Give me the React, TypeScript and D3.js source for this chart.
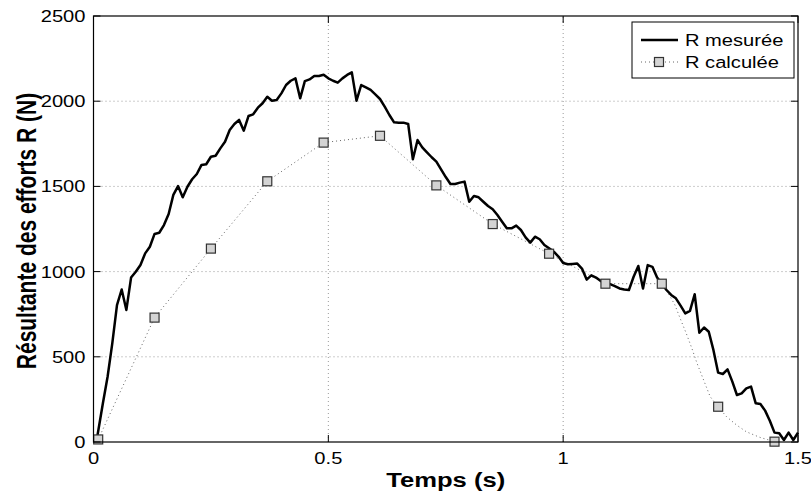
import React from "react";
import * as d3 from "d3";

const measuredTime = [
  0.007, 0.02, 0.03, 0.04, 0.05, 0.06, 0.07, 0.08, 0.09, 0.1,
  0.11, 0.12, 0.13, 0.14, 0.15, 0.16, 0.17, 0.18, 0.19, 0.2,
  0.21, 0.22, 0.23, 0.24, 0.25, 0.26, 0.27, 0.28, 0.29, 0.3,
  0.31, 0.32, 0.33, 0.34, 0.35, 0.36, 0.37, 0.38, 0.39, 0.4,
  0.41, 0.42, 0.43, 0.44, 0.45, 0.46, 0.47, 0.48, 0.49, 0.5,
  0.51, 0.52, 0.53, 0.54, 0.55, 0.56, 0.57, 0.58, 0.59, 0.6,
  0.61, 0.62, 0.63, 0.64, 0.65, 0.66, 0.67, 0.68, 0.69, 0.7,
  0.71, 0.72, 0.73, 0.74, 0.75, 0.76, 0.77, 0.78, 0.79, 0.8,
  0.81, 0.82, 0.83, 0.84, 0.85, 0.86, 0.87, 0.88, 0.89, 0.9,
  0.91, 0.92, 0.93, 0.94, 0.95, 0.96, 0.97, 0.98, 0.99, 1.0,
  1.01, 1.02, 1.03, 1.04, 1.05, 1.06, 1.07, 1.08, 1.09, 1.1,
  1.11, 1.12, 1.13, 1.14, 1.15, 1.16, 1.17, 1.18, 1.19, 1.2,
  1.21, 1.22, 1.23, 1.24, 1.25, 1.26, 1.27, 1.28, 1.29, 1.3,
  1.31, 1.32, 1.33, 1.34, 1.35, 1.36, 1.37, 1.38, 1.39, 1.4,
  1.41, 1.42, 1.43, 1.44, 1.45, 1.46, 1.47, 1.48, 1.49, 1.5,
];

const measuredForce = [
  15, 227, 383, 579, 803, 895, 775, 965, 999, 1039,
  1107, 1146, 1221, 1228, 1273, 1338, 1450, 1502, 1436, 1498,
  1542, 1573, 1626, 1630, 1674, 1680, 1723, 1762, 1831, 1866,
  1890, 1827, 1913, 1923, 1962, 1988, 2026, 2003, 2007, 2046,
  2095, 2120, 2134, 2017, 2118, 2128, 2148, 2148, 2155, 2134,
  2120, 2109, 2134, 2154, 2169, 2003, 2095, 2081, 2066, 2040,
  2013, 1968, 1919, 1876, 1874, 1874, 1866, 1659, 1772, 1729,
  1700, 1671, 1645, 1600, 1555, 1514, 1514, 1522, 1528, 1410,
  1444, 1436, 1410, 1385, 1366, 1332, 1293, 1254, 1254, 1270,
  1244, 1201, 1170, 1205, 1190, 1156, 1137, 1117, 1088, 1050,
  1043, 1045, 1047, 1018, 953, 978, 965, 945, 934, 926,
  915, 901, 895, 892, 970, 1033, 901, 1038, 1028, 965,
  930, 892, 863, 843, 800, 755, 770, 867, 641, 672,
  647, 539, 407, 399, 426, 356, 276, 285, 315, 325,
  227, 223, 184, 125, 55, 51, 12, 55, 12, 55,
];

// calculated values (markers)
const calcTime = [0.01, 0.13, 0.25, 0.37, 0.49, 0.61, 0.73, 0.85, 0.97, 1.09, 1.21, 1.33, 1.45];
const calcForce = [15, 730, 1135, 1530, 1757, 1797, 1506, 1279, 1105, 929, 929, 207, 2];

// dotted calculated curve (finer near the end)
const calcCurveTime = [
  0.01, 0.13, 0.25, 0.37, 0.49, 0.61, 0.73, 0.85, 0.97, 1.09, 1.21,
  1.224, 1.238, 1.249, 1.262, 1.274, 1.285, 1.299, 1.313, 1.33,
  1.348, 1.369, 1.39, 1.419, 1.45,
];
const calcCurveForce = [
  15, 730, 1135, 1530, 1757, 1797, 1506, 1279, 1105, 929, 929,
  872, 804, 726, 638, 550, 462, 364, 266, 207,
  148, 100, 60, 27, 2,
];

const xTicks = [0, 0.5, 1, 1.5];
const xTickLabels = ["0", "0.5", "1", "1.5"];
const yTicks = [0, 500, 1000, 1500, 2000, 2500];
const yTickLabels = ["0", "500", "1000", "1500", "2000", "2500"];

const xLabel = "Temps (s)";
const yLabel = "Résultante des efforts R (N)";
const legendLabels = ["R mesurée", "R calculée"];

const W = 811;
const H = 495;
const L = 93.5;
const R = 798;
const T = 16;
const B = 442;
const SX = 1.22;
const FONT = "'Liberation Sans', Arial, Helvetica, sans-serif";

export default function App() {
  const x = d3.scaleLinear().domain([0, 1.5]).range([L, R]);
  const y = d3.scaleLinear().domain([0, 2500]).range([B, T]);

  const measured = measuredTime.map((t, i) => [t, measuredForce[i]] as [number, number]);
  const calc = calcTime.map((t, i) => [t, calcForce[i]] as [number, number]);
  const calcCurve = calcCurveTime.map((t, i) => [t, calcCurveForce[i]] as [number, number]);

  const line = d3
    .line<[number, number]>()
    .x((d) => x(d[0]))
    .y((d) => y(d[1]));

  const tickLen = 7;
  const ms = 9;

  return (
    <svg
      width={W}
      height={H}
      style={{ position: "absolute", left: 0, top: 0, background: "#fff" }}
      fontFamily={FONT}
    >
      <rect x={0} y={0} width={W} height={H} fill="#fff" />
      {/* grid */}
      {xTicks.map((t, i) =>
        i > 0 && i < xTicks.length - 1 ? (
          <line key={"gx" + i} x1={x(t)} x2={x(t)} y1={B} y2={T} stroke="#9a9a9a" strokeWidth={1} strokeDasharray="1,3" />
        ) : null
      )}
      {yTicks.map((t, i) =>
        i > 0 && i < yTicks.length - 1 ? (
          <line key={"gy" + i} x1={L} x2={R} y1={y(t)} y2={y(t)} stroke="#9a9a9a" strokeWidth={1} strokeDasharray="1,3" />
        ) : null
      )}

      {/* calculated: dotted curve */}
      <path d={line(calcCurve) || ""} fill="none" stroke="#666" strokeWidth={1} strokeDasharray="1,3" />

      {/* measured */}
      <path d={line(measured) || ""} fill="none" stroke="#000" strokeWidth={2.5} strokeLinejoin="round" />

      {/* markers */}
      {calc.map((d, i) => (
        <rect
          key={"m" + i}
          x={x(d[0]) - ms / 2}
          y={y(d[1]) - ms / 2}
          width={ms}
          height={ms}
          fill="#d4d4d4"
          stroke="#333"
          strokeWidth={1.2}
        />
      ))}

      {/* axes box */}
      <rect x={L} y={T} width={R - L} height={B - T} fill="none" stroke="#000" strokeWidth={1.2} />

      {/* ticks */}
      {xTicks.map((t, i) => (
        <g key={"xt" + i}>
          <line x1={x(t)} x2={x(t)} y1={B} y2={B - tickLen} stroke="#000" />
          <line x1={x(t)} x2={x(t)} y1={T} y2={T + tickLen} stroke="#000" />
          <text
            transform={`translate(${x(t)},${B + 22}) scale(${SX},1)`}
            textAnchor="middle"
            fontSize={16.5}
            fill="#000"
          >
            {xTickLabels[i]}
          </text>
        </g>
      ))}
      {yTicks.map((t, i) => (
        <g key={"yt" + i}>
          <line x1={L} x2={L + tickLen} y1={y(t)} y2={y(t)} stroke="#000" />
          <line x1={R} x2={R - tickLen} y1={y(t)} y2={y(t)} stroke="#000" />
          <text
            transform={`translate(${L - 8},${y(t) + 6}) scale(${SX},1)`}
            textAnchor="end"
            fontSize={16.5}
            fill="#000"
          >
            {yTickLabels[i]}
          </text>
        </g>
      ))}

      {/* axis labels */}
      <text
        transform={`translate(${(L + R) / 2},${487}) scale(${SX},1)`}
        textAnchor="middle"
        fontSize={21}
        fontWeight="bold"
        fill="#000"
      >
        {xLabel}
      </text>
      <text
        transform={`translate(${36},${(T + B) / 2 + 2}) scale(1.3,1) rotate(-90)`}
        textAnchor="middle"
        fontSize={21}
        fontWeight="bold"
        fill="#000"
      >
        {yLabel}
      </text>

      {/* legend */}
      <g>
        <rect x={632} y={22} width={162} height={56} fill="#fff" stroke="#000" strokeWidth={1} />
        <line x1={641} x2={678} y1={40} y2={40} stroke="#000" strokeWidth={2.5} />
        <text transform={`translate(685,45.5) scale(${SX},1)`} fontSize={16.5} fill="#000">
          {legendLabels[0]}
        </text>
        <line x1={641} x2={678} y1={62} y2={62} stroke="#666" strokeWidth={1} strokeDasharray="1,3" />
        <rect x={659 - ms / 2} y={62 - ms / 2} width={ms} height={ms} fill="#d4d4d4" stroke="#333" strokeWidth={1.2} />
        <text transform={`translate(685,68) scale(${SX},1)`} fontSize={16.5} fill="#000">
          {legendLabels[1]}
        </text>
      </g>
    </svg>
  );
}
